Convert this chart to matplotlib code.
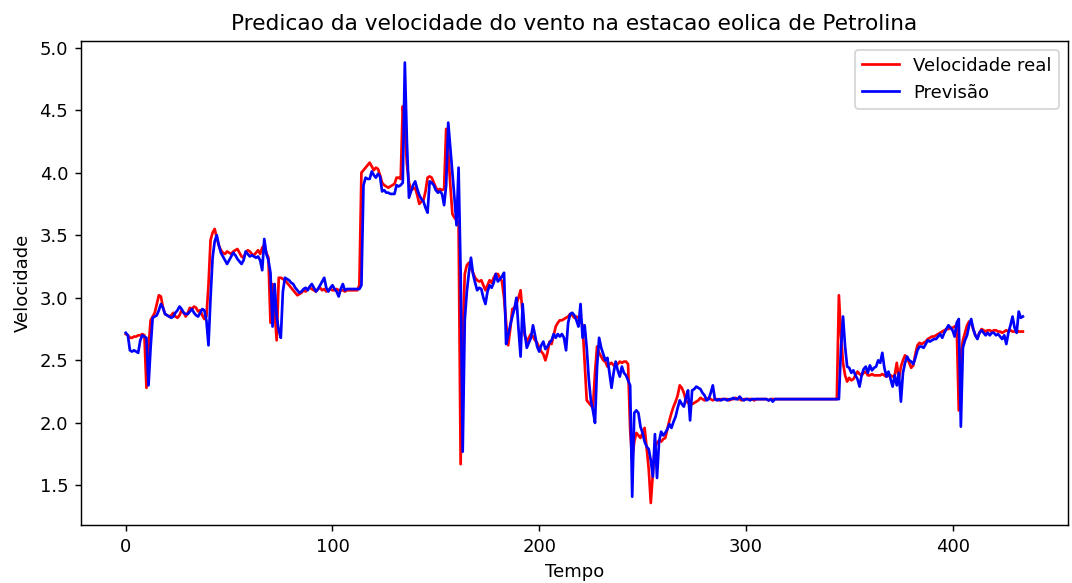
import matplotlib
matplotlib.use("Agg")
import matplotlib.pyplot as plt

# valores (indice = tempo)
velocidade_real = [
    2.71, 2.70, 2.68, 2.68, 2.69, 2.69, 2.70, 2.70, 2.71, 2.70,
    2.28, 2.60, 2.82, 2.85, 2.88, 2.95, 3.02, 3.01, 2.92, 2.87,
    2.86, 2.85, 2.86, 2.88, 2.85, 2.84, 2.86, 2.90, 2.88, 2.85,
    2.88, 2.92, 2.91, 2.93, 2.92, 2.89, 2.90, 2.86, 2.83, 2.85,
    3.10, 3.46, 3.52, 3.55, 3.48, 3.42, 3.38, 3.36, 3.35, 3.37,
    3.36, 3.35, 3.37, 3.38, 3.39, 3.36, 3.33, 3.32, 3.36, 3.38,
    3.37, 3.35, 3.34, 3.36, 3.38, 3.35, 3.40, 3.42, 3.36, 3.32,
    2.80, 3.11, 2.90, 2.66, 3.16, 3.16, 3.15, 3.14, 3.12, 3.10,
    3.08, 3.06, 3.04, 3.02, 3.03, 3.04, 3.06, 3.05, 3.07, 3.08,
    3.07, 3.06, 3.05, 3.07, 3.08, 3.06, 3.07, 3.05, 3.06, 3.07,
    3.06, 3.06, 3.07, 3.06, 3.06, 3.06, 3.05, 3.06, 3.06, 3.06,
    3.06, 3.06, 3.06, 3.10, 4.00, 4.02, 4.04, 4.06, 4.08, 4.05,
    4.02, 4.04, 4.03, 3.98, 3.92, 3.90, 3.89, 3.88, 3.89, 3.90,
    3.91, 3.96, 3.96, 3.95, 4.53, 4.36, 4.07, 3.92, 3.86, 3.87,
    3.88, 3.82, 3.75, 3.77, 3.78, 3.85, 3.96, 3.97, 3.96, 3.92,
    3.88, 3.86, 3.87, 3.86, 3.87, 4.35, 4.17, 3.90, 3.67, 3.64,
    3.62, 3.60, 1.67, 2.70, 3.19, 3.26, 3.28, 3.24, 3.20, 3.16,
    3.14, 3.13, 3.14, 3.10, 3.06, 3.10, 3.14, 3.12, 3.16, 3.19,
    3.19, 3.16, 3.13, 3.00, 2.80, 2.62, 2.75, 2.91, 2.92, 2.95,
    3.00, 3.06, 2.87, 2.70, 2.65, 2.68, 2.71, 2.69, 2.66, 2.64,
    2.60, 2.57, 2.55, 2.50, 2.56, 2.65, 2.63, 2.70, 2.77, 2.80,
    2.82, 2.82, 2.83, 2.84, 2.85, 2.87, 2.86, 2.84, 2.85, 2.84,
    2.82, 2.78, 2.48, 2.18, 2.16, 2.14, 2.12, 2.40, 2.61, 2.56,
    2.53, 2.50, 2.49, 2.45, 2.47, 2.48, 2.46, 2.45, 2.47, 2.49,
    2.48, 2.49, 2.49, 2.47, 1.95, 1.70, 1.85, 1.92, 1.90, 1.88,
    1.92, 1.96, 1.80, 1.63, 1.36, 1.60, 1.81, 1.84, 1.86, 1.85,
    1.87, 1.88, 1.95, 2.02, 2.08, 2.13, 2.17, 2.22, 2.30, 2.28,
    2.24, 2.18, 2.16, 2.15, 2.15, 2.16, 2.17, 2.18, 2.20, 2.19,
    2.18, 2.19, 2.20, 2.19, 2.18, 2.19, 2.19, 2.18, 2.19, 2.19,
    2.19, 2.19, 2.18, 2.19, 2.19, 2.20, 2.19, 2.19, 2.18, 2.19,
    2.19, 2.19, 2.19, 2.19, 2.18, 2.19, 2.19, 2.19, 2.19, 2.19,
    2.19, 2.18, 2.19, 2.19, 2.19, 2.19, 2.19, 2.19, 2.19, 2.19,
    2.19, 2.19, 2.19, 2.19, 2.19, 2.19, 2.19, 2.19, 2.19, 2.19,
    2.19, 2.19, 2.19, 2.19, 2.19, 2.19, 2.19, 2.19, 2.19, 2.19,
    2.19, 2.19, 2.19, 2.19, 2.19, 3.02, 2.70, 2.48, 2.38, 2.33,
    2.36, 2.34, 2.35, 2.38, 2.41, 2.39, 2.38, 2.40, 2.41, 2.38,
    2.38, 2.39, 2.38, 2.38, 2.38, 2.38, 2.39, 2.38, 2.37, 2.38,
    2.38, 2.37, 2.38, 2.48, 2.35, 2.45, 2.50, 2.54, 2.52, 2.48,
    2.44, 2.46, 2.55, 2.62, 2.64, 2.63, 2.64, 2.65, 2.67, 2.68,
    2.69, 2.69, 2.70, 2.71, 2.72, 2.73, 2.74, 2.75, 2.75, 2.76,
    2.76, 2.77, 2.78, 2.10, 2.55, 2.66, 2.72, 2.78, 2.81, 2.80,
    2.75, 2.70, 2.68, 2.72, 2.75, 2.74, 2.73, 2.74, 2.74, 2.73,
    2.74, 2.74, 2.73, 2.73, 2.72, 2.73, 2.74, 2.73, 2.74, 2.73,
    2.73, 2.74, 2.73, 2.73, 2.73,
]

previsao = [
    2.72, 2.70, 2.58, 2.57, 2.58, 2.57, 2.56, 2.66, 2.70, 2.69,
    2.68, 2.30, 2.60, 2.84, 2.85, 2.86, 2.90, 2.95, 2.92, 2.87,
    2.86, 2.85, 2.84, 2.85, 2.88, 2.90, 2.93, 2.91, 2.88, 2.87,
    2.87, 2.89, 2.91, 2.88, 2.86, 2.85, 2.88, 2.91, 2.90, 2.82,
    2.62, 3.00, 3.32, 3.45, 3.50, 3.42, 3.36, 3.33, 3.30, 3.27,
    3.30, 3.33, 3.36, 3.34, 3.31, 3.29, 3.27, 3.30, 3.37, 3.35,
    3.33, 3.34, 3.33, 3.32, 3.33, 3.30, 3.22, 3.47, 3.35, 3.30,
    3.20, 2.77, 3.11, 2.85, 2.74, 2.68, 3.05, 3.16, 3.15, 3.14,
    3.12, 3.11, 3.08, 3.06, 3.04, 3.05, 3.07, 3.08, 3.06, 3.09,
    3.11, 3.08, 3.05, 3.07, 3.10, 3.13, 3.16, 3.08, 3.05, 3.08,
    3.10, 3.07, 3.05, 3.01, 3.07, 3.11, 3.06, 3.07, 3.07, 3.07,
    3.07, 3.07, 3.07, 3.07, 3.10, 3.90, 3.96, 3.95, 3.95, 4.01,
    3.98, 3.96, 3.99, 3.97, 3.85, 3.86, 3.84, 3.84, 3.83, 3.83,
    3.83, 3.90, 3.89, 3.90, 3.92, 4.88, 4.25, 3.80, 3.85, 3.90,
    3.93, 3.87, 3.82, 3.79, 3.77, 3.72, 3.68, 3.93, 3.92, 3.90,
    3.86, 3.84, 3.85, 3.83, 3.74, 3.90, 4.40, 4.20, 4.01, 3.80,
    3.58, 4.04, 3.20, 1.77, 2.82, 3.05, 3.20, 3.32, 3.19, 3.12,
    3.06, 3.08, 3.07, 3.00, 2.95, 3.05, 3.10, 3.08, 3.12, 3.19,
    3.13, 3.15, 3.17, 3.20, 2.63, 2.70, 2.78, 2.85, 2.91, 3.00,
    2.75, 2.53, 2.95, 2.72, 2.60, 2.64, 2.68, 2.78, 2.70, 2.61,
    2.57, 2.62, 2.65, 2.59, 2.61, 2.64, 2.66, 2.71, 2.68, 2.71,
    2.69, 2.71, 2.68, 2.58, 2.80, 2.87, 2.88, 2.86, 2.82, 2.77,
    2.95, 2.68, 2.78, 2.60, 2.35, 2.18, 2.10, 2.00, 2.45, 2.68,
    2.60, 2.55, 2.50, 2.52, 2.40, 2.28, 2.40, 2.49, 2.42, 2.37,
    2.45, 2.40, 2.38, 2.34, 2.30, 1.41, 2.08, 2.10, 2.08, 1.97,
    1.92, 1.85, 1.81, 1.79, 1.70, 1.57, 1.91, 1.56, 1.85, 1.93,
    1.90, 1.92, 1.95, 1.99, 1.96, 2.01, 2.05, 2.12, 2.18, 2.15,
    2.13, 2.20, 2.26, 2.02, 2.26, 2.27, 2.29, 2.28, 2.27, 2.24,
    2.22, 2.18, 2.19, 2.24, 2.30, 2.19, 2.18, 2.19, 2.18, 2.19,
    2.19, 2.18, 2.19, 2.19, 2.20, 2.19, 2.19, 2.21, 2.19, 2.18,
    2.19, 2.19, 2.18, 2.19, 2.19, 2.19, 2.19, 2.19, 2.19, 2.19,
    2.19, 2.18, 2.19, 2.17, 2.19, 2.19, 2.19, 2.19, 2.19, 2.19,
    2.19, 2.19, 2.19, 2.19, 2.19, 2.19, 2.19, 2.19, 2.19, 2.19,
    2.19, 2.19, 2.19, 2.19, 2.19, 2.19, 2.19, 2.19, 2.19, 2.19,
    2.19, 2.19, 2.19, 2.19, 2.19, 2.19, 2.60, 2.85, 2.61, 2.45,
    2.44, 2.40, 2.42, 2.38, 2.35, 2.29, 2.38, 2.43, 2.45, 2.40,
    2.46, 2.42, 2.44, 2.45, 2.50, 2.48, 2.56, 2.44, 2.37, 2.41,
    2.35, 2.29, 2.38, 2.30, 2.40, 2.17, 2.40, 2.48, 2.53, 2.50,
    2.49, 2.47, 2.52, 2.58, 2.61, 2.61, 2.60, 2.63, 2.66, 2.65,
    2.66, 2.67, 2.67, 2.69, 2.71, 2.68, 2.72, 2.75, 2.78, 2.76,
    2.74, 2.69, 2.80, 2.83, 1.97, 2.60, 2.66, 2.70, 2.78, 2.83,
    2.75, 2.70, 2.67, 2.72, 2.74, 2.72, 2.70, 2.72, 2.70, 2.72,
    2.72, 2.70, 2.71, 2.69, 2.67, 2.70, 2.63, 2.72, 2.78, 2.85,
    2.76, 2.72, 2.89, 2.84, 2.85,
]

dpi = 130
fig = plt.figure(figsize=(1072 / dpi, 583 / dpi), dpi=dpi)
ax = fig.add_axes([0.0755, 0.0995, 0.9205, 0.831])

ax.plot(velocidade_real, color='red', linewidth=1.5, label='Velocidade real')
ax.plot(previsao, color='blue', linewidth=1.5, label='Previsão')

ax.set_title('Predicao da velocidade do vento na estacao eolica de Petrolina')
ax.set_xlabel('Tempo')
ax.set_ylabel('Velocidade')
ax.legend(loc='upper right')

fig.savefig('out.png', dpi=dpi)
